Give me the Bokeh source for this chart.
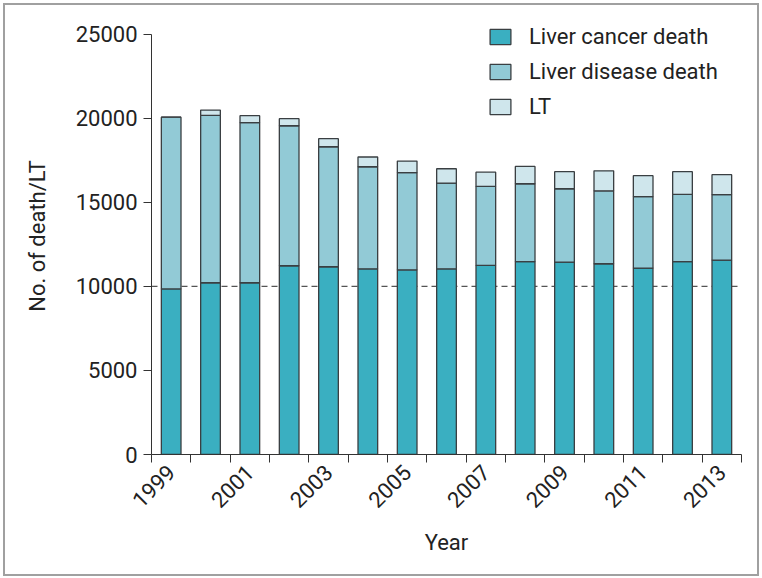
import math
from bokeh.plotting import figure
from bokeh.models import FixedTicker, Span, Legend, LegendItem, ColumnDataSource
from bokeh.embed import file_html
from bokeh.resources import INLINE

years = [str(y) for y in range(1999, 2014)]
liver_cancer = [9850, 10220, 10220, 11230, 11170, 11050, 10990, 11050, 11250, 11470, 11450, 11350, 11090, 11470, 11570]
liver_disease = [10220, 9960, 9520, 8330, 7140, 6070, 5780, 5100, 4700, 4640, 4360, 4340, 4250, 4010, 3890]
lt = [0, 310, 420, 420, 480, 580, 690, 850, 850, 1030, 1015, 1190, 1250, 1345, 1190]
y_ticks = [0, 5000, 10000, 15000, 20000, 25000]
reference_level = 10000
series_names = ["Liver cancer death", "Liver disease death", "LT"]
colors = ["#3aafc1", "#92cad6", "#cfe6ec"]

FONT = "Roboto"
FS = "22px"

xs = [i + 0.5 for i in range(len(years))]
src = ColumnDataSource(dict(x=xs, cancer=liver_cancer, disease=liver_disease, lt=lt))

p = figure(width=752, height=569, x_range=(0, len(years)), y_range=(0, 26000),
           output_backend="svg", toolbar_location=None,
           min_border_left=146, min_border_right=16, min_border_top=12, min_border_bottom=120)
p.styles = {"margin-left": "5px", "margin-top": "5px",
            "outline": "2px solid #a0a0a0", "outline-offset": "0px"}

p.xgrid.visible = False
p.ygrid.visible = False
p.outline_line_color = None

span = Span(location=reference_level, dimension="width", line_dash="6 4",
            line_color="#555555", line_width=1.2, level="underlay")
p.add_layout(span)

rs = p.vbar_stack(["cancer", "disease", "lt"], x="x", width=0.5, source=src,
                  fill_color=colors, line_color="#3a3f42", line_width=1.3)

legend = Legend(items=[LegendItem(label=n, renderers=[r]) for n, r in zip(series_names, rs)],
                location=(336, 335), orientation="vertical",
                glyph_width=26, glyph_height=19, label_standoff=16, spacing=10,
                padding=0, margin=0, border_line_alpha=0, background_fill_alpha=0,
                label_text_font=FONT, label_text_font_size=FS, label_text_color="#222222")
p.add_layout(legend)

# axes
p.yaxis.ticker = FixedTicker(ticks=y_ticks)
p.yaxis.bounds = (0, 25000)
p.yaxis.major_tick_out = 8
p.yaxis.major_tick_in = 0
p.yaxis.minor_tick_out = 0
p.yaxis.major_label_standoff = 6
p.yaxis.axis_label = "No. of death/LT"
p.yaxis.axis_label_standoff = 23

label_ticks = [xs[i] for i in range(0, len(years), 2)]
p.xaxis.ticker = FixedTicker(ticks=label_ticks, minor_ticks=list(range(len(years) + 1)))
p.xaxis.major_label_overrides = {xs[i]: years[i] for i in range(0, len(years), 2)}
p.xaxis.major_tick_out = 0
p.xaxis.major_tick_in = 0
p.xaxis.minor_tick_out = 8
p.xaxis.minor_tick_in = 0
p.xaxis.major_label_orientation = math.pi / 4
p.xaxis.major_label_standoff = 6
p.xaxis.axis_label = "Year"
p.xaxis.axis_label_standoff = 12

for ax in (p.xaxis[0], p.yaxis[0]):
    ax.axis_line_color = "#333333"
    ax.major_tick_line_color = "#333333"
    ax.minor_tick_line_color = "#333333"
    ax.major_label_text_font = FONT
    ax.major_label_text_font_size = FS
    ax.major_label_text_color = "#222222"
    ax.axis_label_text_font = FONT
    ax.axis_label_text_font_size = FS
    ax.axis_label_text_font_style = "normal"
    ax.axis_label_text_color = "#222222"

open("out.html", "w").write(file_html(p, INLINE))
